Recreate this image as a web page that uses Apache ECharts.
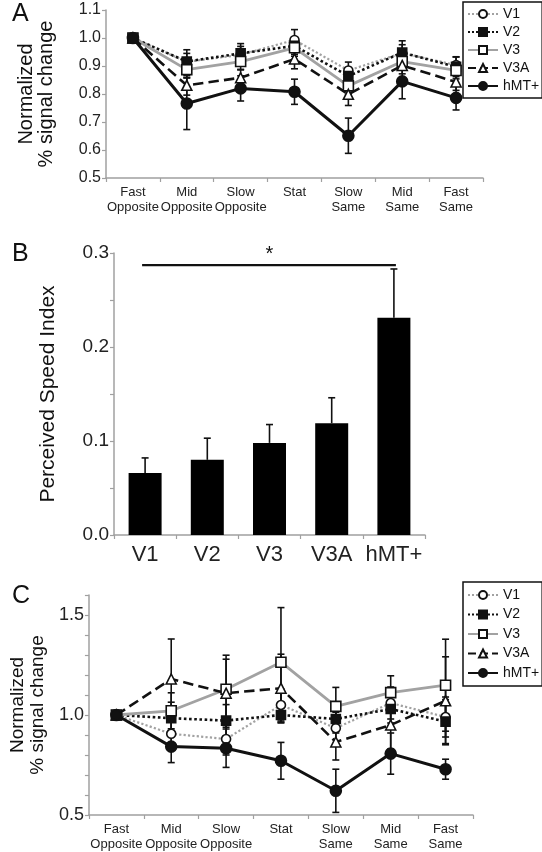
<!DOCTYPE html>
<html>
<head>
<meta charset="utf-8">
<script src="https://cdn.jsdelivr.net/npm/echarts@6/dist/echarts.min.js"></script>
<style>
html,body{margin:0;padding:0;background:#fff;}
#chart{width:542px;height:852px;}
</style>
</head>
<body>
<div id="chart"></div>
<script>
// ---------- DATA ----------
const conditions = ['Fast\nOpposite','Mid\nOpposite','Slow\nOpposite','Stat','Slow\nSame','Mid\nSame','Fast\nSame'];
const areaNames = ['V1','V2','V3','V3A','hMT+'];

// Panel A: normalized % signal change
const aV1   = [1.0, 0.915, 0.940, 0.993, 0.884, 0.946, 0.903];
const aV2   = [1.0, 0.916, 0.945, 0.972, 0.864, 0.948, 0.897];
const aV3   = [1.0, 0.887, 0.916, 0.965, 0.829, 0.916, 0.884];
const aV3A  = [1.0, 0.831, 0.858, 0.925, 0.799, 0.902, 0.843];
const aMT   = [1.0, 0.766, 0.820, 0.808, 0.651, 0.845, 0.786];
const aV1Err  = [0, 0.030, 0.030, 0.037, 0.030, 0.030, 0.030];
const aV2Err  = [0, 0.042, 0.035, 0.030, 0.030, 0.042, 0.035];
const aV3Err  = [0, 0.030, 0.030, 0.030, 0.030, 0.030, 0.030];
const aV3AErr = [0, 0.035, 0.030, 0.035, 0.040, 0.030, 0.030];
const aMTErr  = [0, 0.093, 0.045, 0.045, 0.063, 0.062, 0.043];

// Panel B: perceived speed index
const psi    = [0.066, 0.080, 0.098, 0.119, 0.231];
const psiErr = [0.016, 0.023, 0.0195, 0.027, 0.052];
const sigFrom = 'V1', sigTo = 'hMT+', sigY = 0.287, sigLabel = '*';

// Panel C: normalized % signal change
const cV1   = [1.0, 0.906, 0.880, 1.050, 0.934, 1.060, 0.990];
const cV2   = [1.0, 0.984, 0.972, 1.000, 0.980, 1.030, 0.967];
const cV3   = [1.0, 1.021, 1.129, 1.264, 1.043, 1.112, 1.149];
const cV3A  = [1.0, 1.180, 1.109, 1.134, 0.865, 0.950, 1.071];
const cMT   = [1.0, 0.842, 0.834, 0.771, 0.621, 0.807, 0.729];
const cV1Err  = [0, 0.07, 0.08, 0.08, 0.08, 0.08, 0.10];
const cV2Err  = [0, 0.08, 0.08, 0.04, 0.07, 0.07, 0.11];
const cV3Err  = [0, 0.09, 0.17, 0.273, 0.095, 0.084, 0.23];
const cV3AErr = [0, 0.20, 0.17, 0.17, 0.09, 0.12, 0.22];
const cMTErr  = [0, 0.08, 0.096, 0.092, 0.108, 0.103, 0.05];

// ---------- STYLES ----------
const FONT = '"Liberation Sans", Arial, Helvetica, sans-serif';
const GRAY = '#a2a2a2';
const INK = '#111';
const styleOf = {
  'V1':   {lineColor: GRAY, type: 'dotted', width: 2.2, symbol: 'circle',   fill: '#fff', size: 9},
  'V2':   {lineColor: INK,  type: 'dotted', width: 2.6, symbol: 'rect',     fill: INK,   size: 9},
  'V3':   {lineColor: GRAY, type: 'solid',  width: 2.8, symbol: 'rect',     fill: '#fff', size: 10},
  'V3A':  {lineColor: INK,  type: 'dashed', width: 2.6, symbol: 'triangle', fill: '#fff', size: 10},
  'hMT+': {lineColor: INK,  type: 'solid',  width: 3,   symbol: 'circle',   fill: INK,   size: 11}
};

function lineSeries(name, data, gridIdx) {
  const s = styleOf[name];
  return {
    type: 'line', name: name, data: data,
    xAxisIndex: gridIdx, yAxisIndex: gridIdx,
    symbol: s.symbol, symbolSize: s.size,
    lineStyle: {color: s.lineColor, type: s.type, width: s.width},
    itemStyle: {color: s.fill, borderColor: INK, borderWidth: 1.6},
    z: 3, animation: false
  };
}

function errData(valsArr, errsArr) {
  const out = [];
  valsArr.forEach((vals, k) => {
    vals.forEach((v, i) => { if (errsArr[k][i] > 0) out.push([i, v, errsArr[k][i]]); });
  });
  return out;
}

function errRender(twoSided, cap) {
  return function (params, api) {
    const x = api.value(0), y = api.value(1), e = api.value(2);
    const top = api.coord([x, y + e]);
    const bot = twoSided ? api.coord([x, y - e]) : api.coord([x, y]);
    const st = {stroke: INK, lineWidth: 1.6};
    const ch = [
      {type: 'line', shape: {x1: top[0], y1: top[1], x2: bot[0], y2: bot[1]}, style: st},
      {type: 'line', shape: {x1: top[0] - cap, y1: top[1], x2: top[0] + cap, y2: top[1]}, style: st}
    ];
    if (twoSided) ch.push({type: 'line', shape: {x1: bot[0] - cap, y1: bot[1], x2: bot[0] + cap, y2: bot[1]}, style: st});
    return {type: 'group', children: ch};
  };
}

const axisLineGray = {show: true, lineStyle: {color: '#a0a0a0', width: 1.5}};
const tickGray = {show: true, length: 4, lineStyle: {color: '#a0a0a0', width: 1.2}};

function catAxis(gridIdx, data, fontSize, lh, margin) {
  return {
    type: 'category', gridIndex: gridIdx, data: data,
    axisLine: axisLineGray, axisTick: tickGray,
    axisLabel: {interval: 0, color: '#222', fontFamily: FONT, fontSize: fontSize, lineHeight: lh, margin: margin},
    splitLine: {show: false}
  };
}

const chart = echarts.init(document.getElementById('chart'), null, {renderer: 'canvas'});

const legendBase = {
  data: areaNames, orient: 'vertical', left: 463,
  itemWidth: 30, itemHeight: 10,
  borderColor: INK, borderWidth: 1.5, selectedMode: false,
  textStyle: {fontFamily: FONT, fontSize: 14, color: '#111', padding: [0, 0, 0, 0]}
};

const option = {
  backgroundColor: '#fff',
  animation: false,
  textStyle: {fontFamily: FONT},
  grid: [
    {left: 106, top: 10, width: 377, height: 168},
    {left: 114, top: 253, width: 311, height: 282},
    {left: 79, top: 595, width: 394, height: 221}
  ],
  xAxis: [
    catAxis(0, conditions, 13, 15, 7),
    catAxis(1, areaNames, 22, 24, 8),
    catAxis(2, conditions, 13, 15, 7)
  ],
  yAxis: [
    {
      type: 'value', gridIndex: 0, min: 0.5, max: 1.1, interval: 0.1,
      axisLine: axisLineGray, axisTick: tickGray, splitLine: {show: false},
      axisLabel: {color: '#222', fontFamily: FONT, fontSize: 16, margin: 5, formatter: v => v.toFixed(1)},
      name: 'Normalized\n% signal change', nameLocation: 'middle', nameGap: 50, nameRotate: 90,
      nameTextStyle: {color: '#111', fontFamily: FONT, fontSize: 20, lineHeight: 20}
    },
    {
      type: 'value', gridIndex: 1, min: 0, max: 0.3, interval: 0.05,
      axisLine: axisLineGray, axisTick: tickGray, splitLine: {show: false},
      axisLabel: {color: '#222', fontFamily: FONT, fontSize: 19, margin: 5,
        formatter: v => (Math.abs(v * 10 - Math.round(v * 10)) < 1e-6 ? v.toFixed(1) : '')},
      name: 'Perceived Speed Index', nameLocation: 'middle', nameGap: 55, nameRotate: 90,
      nameTextStyle: {color: '#111', fontFamily: FONT, fontSize: 21}
    },
    {
      type: 'value', gridIndex: 2, min: 0.5, max: 1.6, interval: 0.1,
      axisLine: axisLineGray, axisTick: tickGray, splitLine: {show: false},
      axisLabel: {color: '#222', fontFamily: FONT, fontSize: 18, margin: 5,
        formatter: v => (Math.abs(v * 2 - Math.round(v * 2)) < 1e-6 ? v.toFixed(1) : '')},
      name: 'Normalized\n% signal change', nameLocation: 'middle', nameGap: 37, nameRotate: 90,
      nameTextStyle: {color: '#111', fontFamily: FONT, fontSize: 19, lineHeight: 20}
    }
  ],
  legend: [
    Object.assign({}, legendBase, {top: 2, itemGap: 4, padding: [5, 3, 5, 4]}),
    Object.assign({}, legendBase, {top: 582, itemGap: 5.5, padding: [6, 3, 6, 4]})
  ],
  graphic: [
    {type: 'text', left: 12, top: 2, style: {text: 'A', fontSize: 25, fontFamily: FONT, fill: INK}},
    {type: 'text', left: 12, top: 242, style: {text: 'B', fontSize: 25, fontFamily: FONT, fill: INK}},
    {type: 'text', left: 12, top: 584, style: {text: 'C', fontSize: 25, fontFamily: FONT, fill: INK}}
  ],
  series: [
    // Panel A error bars
    {
      type: 'custom', xAxisIndex: 0, yAxisIndex: 0, z: 2, silent: true,
      renderItem: errRender(true, 3.5),
      data: errData([aV1, aV2, aV3, aV3A, aMT], [aV1Err, aV2Err, aV3Err, aV3AErr, aMTErr])
    },
    lineSeries('V1', aV1, 0),
    lineSeries('V2', aV2, 0),
    lineSeries('V3', aV3, 0),
    lineSeries('V3A', aV3A, 0),
    lineSeries('hMT+', aMT, 0),
    // Panel B bars
    {
      type: 'bar', name: 'PSI', xAxisIndex: 1, yAxisIndex: 1, data: psi,
      barWidth: 33, itemStyle: {color: '#000'}, z: 2
    },
    {
      type: 'custom', xAxisIndex: 1, yAxisIndex: 1, z: 1, silent: true,
      renderItem: errRender(false, 3.5),
      data: psi.map((v, i) => [i, v, psiErr[i]])
    },
    {
      type: 'custom', xAxisIndex: 1, yAxisIndex: 1, z: 3, silent: true,
      encode: {x: [0, 1], y: 2},
      renderItem: function (params, api) {
        const p1 = api.coord([api.value(0), api.value(2)]);
        const p2 = api.coord([api.value(1), api.value(2)]);
        return {type: 'group', children: [
          {type: 'line', shape: {x1: p1[0] - 3, y1: p1[1], x2: p2[0] + 2, y2: p2[1]}, style: {stroke: INK, lineWidth: 2.2}},
          {type: 'text', x: (p1[0] + p2[0]) / 2, y: p1[1] - 1,
           style: {text: sigLabel, fontSize: 20, fontFamily: FONT, fill: INK, align: 'center', verticalAlign: 'bottom'}}
        ]};
      },
      data: [[areaNames.indexOf(sigFrom), areaNames.indexOf(sigTo), sigY]]
    },
    // Panel C error bars
    {
      type: 'custom', xAxisIndex: 2, yAxisIndex: 2, z: 2, silent: true,
      renderItem: errRender(true, 3.5),
      data: errData([cV1, cV2, cV3, cV3A, cMT], [cV1Err, cV2Err, cV3Err, cV3AErr, cMTErr])
    },
    lineSeries('V1', cV1, 2),
    lineSeries('V2', cV2, 2),
    lineSeries('V3', cV3, 2),
    lineSeries('V3A', cV3A, 2),
    lineSeries('hMT+', cMT, 2)
  ]
};
chart.setOption(option);
</script>
</body>
</html>
